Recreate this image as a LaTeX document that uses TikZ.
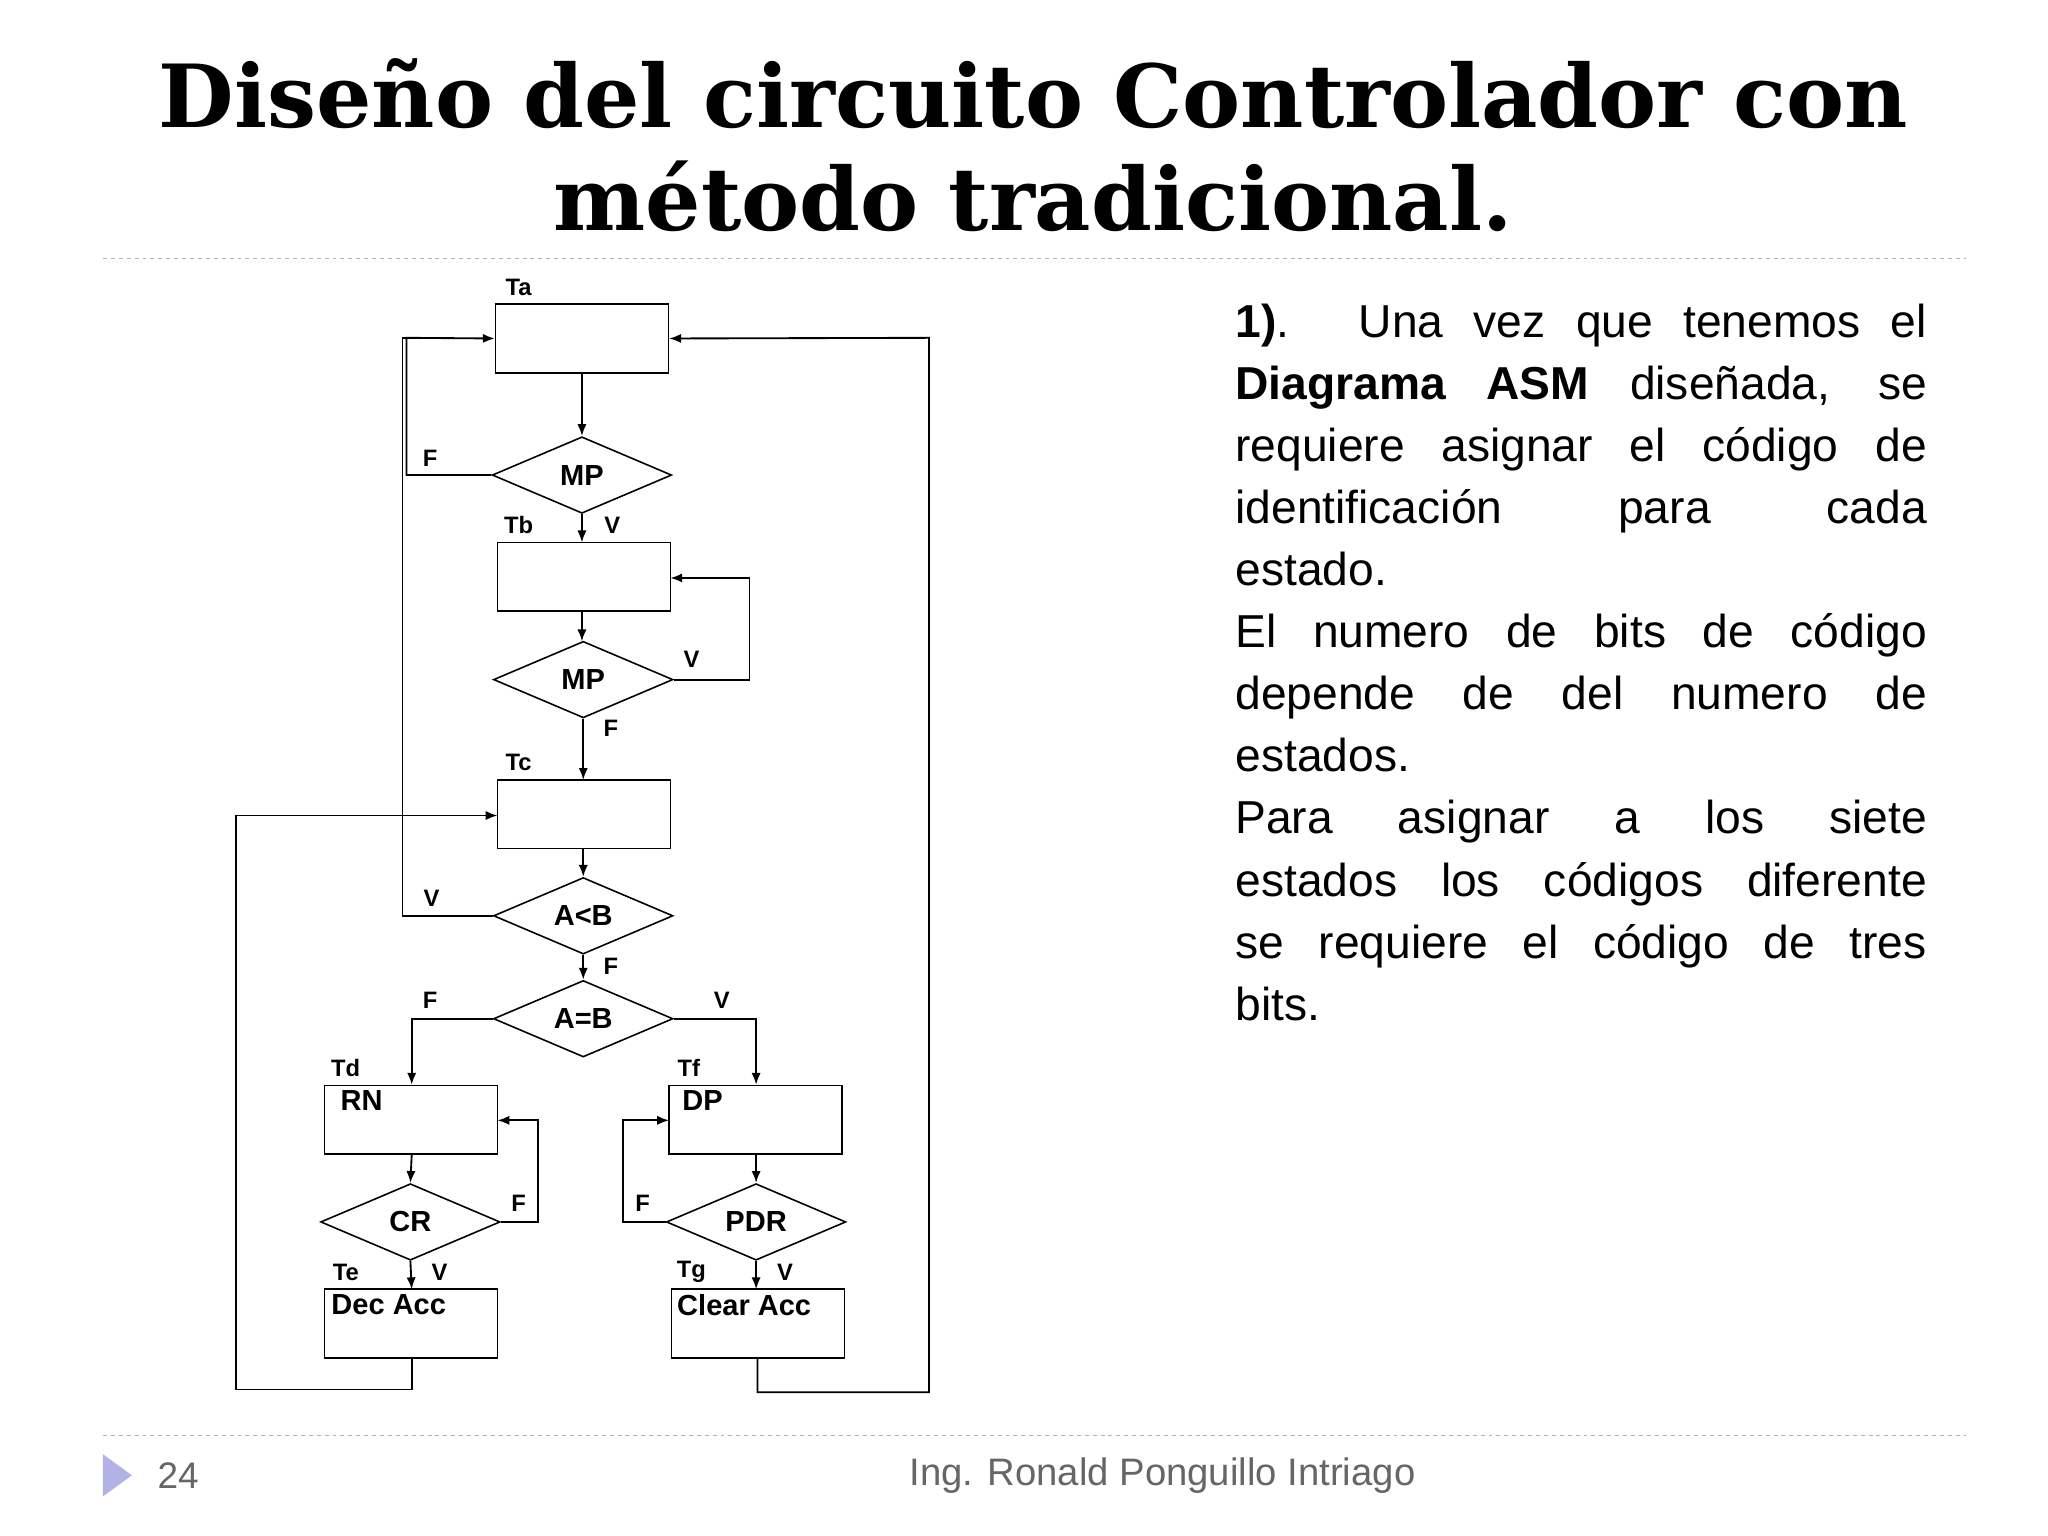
\documentclass[tikz,border=0pt]{standalone}
\usepackage{fontspec}
\setmainfont{Liberation Sans}
\newfontfamily\titlefont{DejaVu Serif}
\usetikzlibrary{shapes.geometric,arrows.meta}
\begin{document}
\begin{tikzpicture}[x=1pt,y=-1pt,
 box/.style={draw,line width=1.2pt,minimum width=131pt,minimum height=52pt,inner sep=0},
 dia/.style={draw,diamond,line width=1.2pt,minimum width=136pt,minimum height=58pt,inner sep=0,aspect=2.3,font=\fontsize{22}{24}\selectfont\bfseries},
 lab/.style={font=\fontsize{18}{20}\selectfont\bfseries,inner sep=0},
 ln/.style={line width=1.4pt},
 ar/.style={line width=1.4pt,-{Latex[length=9pt,width=7pt]}},
 rt/.style={anchor=base west,inner sep=0,font=\fontsize{35}{40}\selectfont}]
\useasboundingbox (0,0) rectangle (1552,1164);
\fill[white] (0,0) rectangle (1552,1164);
% title
\node[font=\titlefont\fontsize{66}{78}\selectfont\bfseries,align=center] (title) at (783,110) {Diseño del circuito Controlador con\\método tradicional.};
\draw[gray!60,dashed,line width=1pt] (78,196) -- (1490,196);
\draw[gray!60,dashed,line width=1pt] (78,1088) -- (1490,1088);
\fill[gray!50!blue!40] (78,1102) -- (100,1118) -- (78,1134) -- cycle;
\node[font=\fontsize{28}{30}\selectfont,text=gray!80!black] (pg) at (135,1118) {24};
\node[font=\fontsize{29}{30}\selectfont,text=gray!80!black] (auth) at (881,1118) {Ing. Ronald Ponguillo Intriago};
% nodes
\node[box] (Ta) at (441,256.5) {};
\node[dia] (d1) at (441,360) {MP};
\node[box] (Tb) at (442.5,437) {};
\node[dia] (d2) at (442,515) {MP};
\node[box] (Tc) at (442.5,617) {};
\node[dia] (d3) at (442,694) {A<B};
\node[dia] (d4) at (442,772) {A=B};
\node[box] (Td) at (311.5,848.5) {};
\node[dia] (d5) at (311,926) {CR};
\node[box] (Te) at (311.5,1003) {};
\node[box] (Tf) at (572.5,848.5) {};
\node[dia] (d6) at (573,926) {PDR};
\node[box] (Tg) at (574.5,1003) {};
\node[lab,font=\fontsize{22}{24}\selectfont\bfseries,anchor=north west] (rn) at (258,826) {RN};
\node[lab,font=\fontsize{22}{24}\selectfont\bfseries,anchor=north west] (dp) at (517,826) {DP};
\node[lab,font=\fontsize{22}{24}\selectfont\bfseries,anchor=north west] (dec) at (251,981) {Dec Acc};
\node[lab,font=\fontsize{22}{24}\selectfont\bfseries,anchor=north west] (clr) at (513,981) {Clear Acc};
% labels
\node[lab] (lTa) at (393,218) {Ta};
\node[lab] (lTb) at (393,398) {Tb};
\node[lab] (lTc) at (393,578) {Tc};
\node[lab] (lTd) at (262,809) {Td};
\node[lab] (lTe) at (262,964) {Te};
\node[lab] (lTf) at (522,809) {Tf};
\node[lab] (lTg) at (524,964) {Tg};
\node[lab] at (326,347) {F};
\node[lab] at (464,398) {V};
\node[lab] at (524,500) {V};
\node[lab] at (463,552) {F};
\node[lab] at (327,681) {V};
\node[lab] at (463,732) {F};
\node[lab] at (326,758) {F};
\node[lab] at (547,758) {V};
\node[lab] at (393,912) {F};
\node[lab] at (333,964) {V};
\node[lab] at (487,912) {F};
\node[lab] at (595,964) {V};
% connectors
\draw[ar] (Ta.south) -- (d1.north);
\draw[ar] (d1.west) -- (308,360) -- (308,256) -- (Ta.west);
\draw[ar] (d1.south) -- (441,411);
\draw[ar] (Tb.south -| 441,0) -- (441,486);
\draw[ar] (d2.east) -- (568,515) -- (568,438) -- (508,438);
\draw[ar] (d2.south) -- (442,591);
\draw[ar] (442,643) -- (d3.north);
\draw[ln] (d3.west) -- (305,694) -- (305,256) -- (330,256);
\draw[ar] (d3.south) -- (d4.north);
\draw[ar] (d4.west) -- (312,772) -- (312,822);
\draw[ar] (d4.east) -- (573,772) -- (573,822);
\draw[ar] (312,875) -- (d5.north);
\draw[ar] (d5.east) -- (408,926) -- (408,849) -- (377,849);
\draw[ar] (d5.south) -- (312,977);
\draw[ar] (Te.south -| 312,0) -- (312,1053) -- (179,1053) -- (179,618) -- (377,618);
\draw[ar] (573,875) -- (d6.north);
\draw[ar] (d6.west) -- (472,926) -- (472,849) -- (507,849);
\draw[ar] (d6.south) -- (573,977);
\draw[ar] (574,1029) -- (574,1055) -- (704,1055) -- (704,256) -- (Ta.east);
% right text
\node[rt] (t1) at (936,256) {\makebox[524pt][s]{\textbf{1)}. Una vez que tenemos el}};
\node[rt] (t2) at (936,303) {\makebox[524pt][s]{\textbf{Diagrama ASM} diseñada, se}};
\node[rt] (t3) at (936,350) {\makebox[524pt][s]{requiere asignar el código de}};
\node[rt] (t4) at (936,397) {\makebox[524pt][s]{identificación para cada}};
\node[rt] (t5) at (936,444) {estado.};
\node[rt] (t6) at (936,491) {\makebox[524pt][s]{El numero de bits de código}};
\node[rt] (t7) at (936,538) {\makebox[524pt][s]{depende de del numero de}};
\node[rt] (t8) at (936,585) {estados.};
\node[rt] (t9) at (936,632) {\makebox[524pt][s]{Para asignar a los siete}};
\node[rt] (t10) at (936,679) {\makebox[524pt][s]{estados los códigos diferente}};
\node[rt] (t11) at (936,726) {\makebox[524pt][s]{se requiere el código de tres}};
\node[rt] (t12) at (936,773) {bits.};
\end{tikzpicture}
\end{document}
